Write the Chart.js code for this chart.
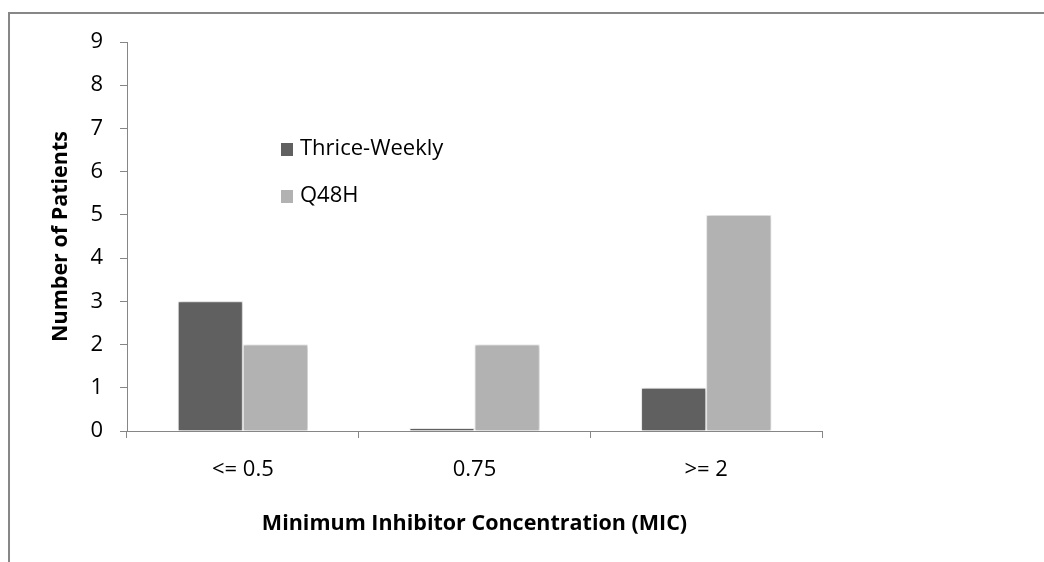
<!DOCTYPE html>
<html>
<head>
<meta charset="utf-8">
<script src="https://cdn.jsdelivr.net/npm/chart.js@4.4.0/dist/chart.umd.min.js"></script>
<style>
  html, body { margin: 0; padding: 0; overflow: hidden; background: #fff; }
  .frame { position: absolute; left: 8px; top: 12px; width: 1200px; height: 700px;
           border-top: 2px solid #878787; border-left: 2px solid #878787; }
  #chart { position: absolute; left: 0; top: 0; }
</style>
</head>
<body>
<div class="frame"></div>
<canvas id="chart" width="1044" height="562"></canvas>
<script>
const categories = ["<= 0.5", "0.75", ">= 2"];
const thriceWeekly = [3, 0, 1];
const q48h = [2, 2, 5];
const seriesNames = ["Thrice-Weekly", "Q48H"];
const seriesColors = ["#606060", "#b2b2b2"];

const axisColor = "#868686";
const fontFamily = '"Open Sans", sans-serif';
const textSize = 22;

// soft shadow round the bars, like the office chart
const barShadow = {
    id: 'barShadow',
    beforeDatasetsDraw(chart) {
        const ctx = chart.ctx;
        ctx.save();
        ctx.shadowColor = 'rgba(0,0,0,0.25)';
        ctx.shadowBlur = 4;
        ctx.shadowOffsetX = 1;
    },
    afterDatasetsDraw(chart) {
        chart.ctx.restore();
    }
};

// legend sits inside the plot, stacked
const insideLegend = {
    id: 'insideLegend',
    afterDraw(chart) {
        const ctx = chart.ctx;
        ctx.save();
        ctx.font = textSize + 'px ' + fontFamily;
        ctx.textBaseline = 'middle';
        chart.data.datasets.forEach((ds, i) => {
            let y = 149 + i * 47;
            ctx.fillStyle = ds.backgroundColor;
            ctx.fillRect(281, y - 6, 12, 13);
            ctx.fillStyle = '#000';
            ctx.fillText(ds.label, 300, y);
        });
        ctx.restore();
    }
};

const ctx = document.getElementById('chart').getContext('2d');
new Chart(ctx, {
    type: 'bar',
    data: {
        labels: categories,
        datasets: [{
            label: seriesNames[0],
            data: thriceWeekly,
            backgroundColor: seriesColors[0],
            borderColor: '#f4f4f4',
            borderWidth: 1,
            minBarLength: 3
        }, {
            label: seriesNames[1],
            data: q48h,
            backgroundColor: seriesColors[1],
            borderColor: '#f4f4f4',
            borderWidth: 1
        }]
    },
    options: {
        responsive: false,
        animation: false,
        categoryPercentage: 0.562,
        barPercentage: 1.0,
        layout: {
            padding: { left: 46, top: 42, right: 222, bottom: 0 }
        },
        plugins: {
            legend: { display: false },
            tooltip: { enabled: false }
        },
        scales: {
            x: {
                grid: {
                    offset: true,
                    drawOnChartArea: false,
                    tickLength: 7,
                    color: axisColor
                },
                border: { color: axisColor },
                ticks: {
                    color: '#000',
                    padding: 19,
                    font: { family: fontFamily, size: textSize }
                },
                title: {
                    display: true,
                    text: 'Minimum Inhibitor Concentration (MIC)',
                    color: '#000',
                    font: { family: fontFamily, size: 21.5, weight: 'bold' },
                    padding: { top: 4, bottom: 25 }
                },
                afterFit(scale) {
                    scale.height = 131;
                }
            },
            y: {
                min: 0,
                max: 9,
                grid: {
                    drawOnChartArea: false,
                    tickLength: 7,
                    color: axisColor
                },
                border: { color: axisColor },
                ticks: {
                    stepSize: 1,
                    color: '#000',
                    padding: 17,
                    font: { family: fontFamily, size: textSize }
                },
                title: {
                    display: true,
                    text: 'Number of Patients',
                    color: '#000',
                    font: { family: fontFamily, size: 21.5, weight: 'bold' },
                    padding: { top: 2, bottom: 4 }
                },
                afterFit(scale) {
                    scale.width = 81;
                }
            }
        }
    },
    plugins: [barShadow, insideLegend]
});
</script>
</body>
</html>
